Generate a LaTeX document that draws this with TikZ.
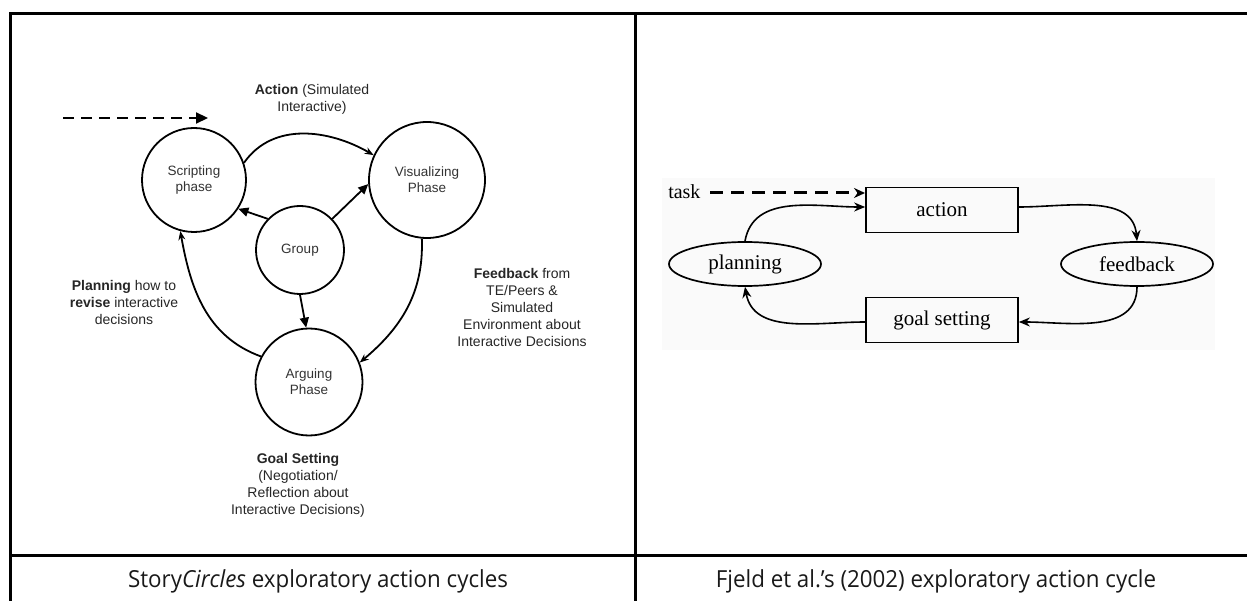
\documentclass[tikz,border=0pt]{standalone}
\usepackage{fontspec}
\setmainfont{Liberation Sans}
\newfontfamily\capfont[FakeStretch=0.95]{Open Sans}
\newfontfamily\timesfont{Liberation Serif}
\usetikzlibrary{arrows.meta,shapes.geometric}
\begin{document}
\begin{tikzpicture}[x=1pt,y=-1pt,
  frameline/.style={line width=3pt,line cap=rect},
  phase/.style={circle,draw,line width=1.8pt,inner sep=0pt,text=black!80,align=center,
    font=\fontsize{13.5}{16}\selectfont},
  lbl/.style={align=center,text=black!85,font=\fontsize{14}{17}\selectfont},
  arc/.style={line width=1.8pt,-{Stealth[length=9pt,width=7pt,inset=3pt]}},
  garr/.style={line width=1.8pt,-{Triangle[length=10pt,width=9pt]}},
  boxn/.style={rectangle,draw,line width=1.7pt,minimum width=152pt,minimum height=45pt,
    font=\timesfont\fontsize{21}{24}\selectfont},
  ellin/.style={ellipse,draw,line width=1.7pt,minimum width=152pt,minimum height=44pt,inner sep=0pt,
    font=\timesfont\fontsize{21}{24}\selectfont},
  rarr/.style={line width=1.6pt,-{Stealth[length=11pt,width=9pt]}},
  capt/.style={font=\capfont\fontsize{23.5}{26}\selectfont,text=black!90}
]
\useasboundingbox (0,0) rectangle (1247,601);
% frame
\draw[frameline] (10.5,13.5) -- (1247,13.5);
\draw[frameline] (10.5,13.5) -- (10.5,601);
\draw[frameline] (635.5,13.5) -- (635.5,601);
\draw[frameline] (10.5,555) -- (1247,555);

% ---------- left diagram ----------
\node[phase,minimum size=104pt] (scr) at (194,180) {Scripting\\phase};
\node[phase,minimum size=116pt] (vis) at (427,180) {Visualizing\\Phase};
\node[phase,minimum size=88pt] (grp) at (300,250) {Group};
\node[phase,minimum size=107pt] (arg) at (309,382) {Arguing\\Phase};

\coordinate (ds) at (63,118);
\coordinate (de) at (208,118);
\draw[line width=2.2pt,dash pattern=on 11pt off 7pt,-{Triangle[length=12pt,width=11pt]}] (ds) -- (de);

\node[lbl] (lact) at (312,99) {\textbf{Action} (Simulated\\Interactive)};
\node[lbl] (lplan) at (124,302) {\textbf{Planning} how to\\\textbf{revise} interactive\\decisions};
\node[lbl] (lfeed) at (522,307) {\textbf{Feedback} from\\TE/Peers \&\\Simulated\\Environment about\\Interactive Decisions};
\node[lbl] (lgoal) at (298,485) {\textbf{Goal Setting}\\(Negotiation/\\Reflection about\\Interactive Decisions)};

\draw[arc] (scr.19) to[out=55,in=150] (vis.155);
\draw[arc] (vis.265) to[out=-88,in=40] (arg.21);
\draw[arc] (arg.152) to[out=160,in=-80] (scr.255);
\draw[garr] (grp.136) -- (scr.-33);
\draw[garr] (grp.44) -- (vis.184);
\draw[garr] (grp.-90) -- (arg.93);

% caption left
\node[capt] (c1) at (318,581) {Story\textit{Circles} exploratory action cycles};

% ---------- right diagram ----------
\fill[black!2] (662,178) rectangle (1215,350);
\node[boxn] (act) at (942,210) {action};
\node[boxn] (goal) at (942,320) {goal setting};
\node[ellin] (plan) at (745,264) {planning};
\node[ellin] (feed) at (1137,264) {feedback};
\node[font=\timesfont\fontsize{20}{24}\selectfont,anchor=east] (task) at (704,192) {task};
\coordinate (tt) at (865,193);
\draw[line width=3pt,dash pattern=on 13pt off 8pt,-{Stealth[length=11pt,width=10pt]}] (task.east) ++(6,1) -- (tt);
\draw[rarr] (plan.north) to[out=80,in=180] ([yshift=3pt]act.west);
\draw[rarr] ([yshift=3pt]act.east) to[out=0,in=95] (feed.north);
\draw[rarr] (feed.south) to[out=-90,in=0] ([yshift=-2pt]goal.east);
\draw[rarr] ([yshift=-2pt]goal.west) to[out=180,in=-80] (plan.south);

\node[capt] (c2) at (936,581) {Fjeld et al.’s (2002) exploratory action cycle};
\end{tikzpicture}
\end{document}
